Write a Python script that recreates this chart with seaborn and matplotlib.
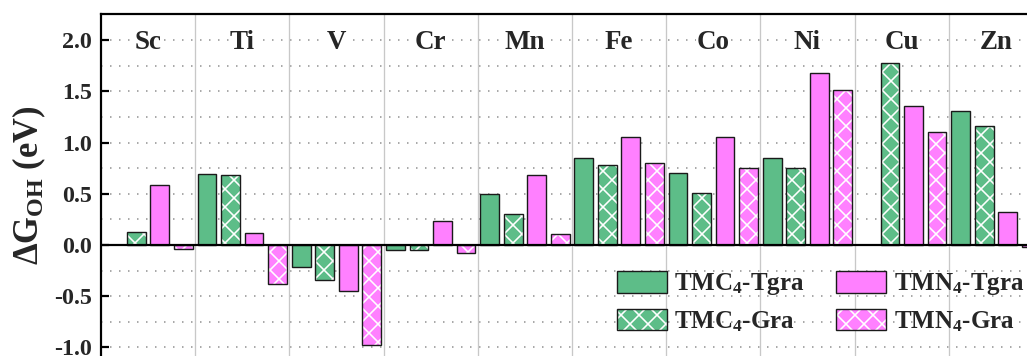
import numpy as np
import pandas as pd
import matplotlib
matplotlib.use("Agg")
import matplotlib.pyplot as plt
import seaborn as sns

elements = ["Sc", "Ti", "V", "Cr", "Mn", "Fe", "Co", "Ni", "Cu", "Zn"]
series = ["TMC$_4$-Tgra", "TMC$_4$-Gra", "TMN$_4$-Tgra", "TMN$_4$-Gra"]
tmc4_tgra = [np.nan, 0.69, -0.21, -0.05, 0.50, 0.85, 0.70, 0.85, np.nan, 1.31]
tmc4_gra = [0.13, 0.68, -0.34, -0.05, 0.30, 0.78, 0.51, 0.75, 1.78, 1.16]
tmn4_tgra = [0.59, 0.12, -0.45, 0.23, 0.68, 1.05, 1.05, 1.68, 1.36, 0.32]
tmn4_gra = [-0.04, -0.38, -0.98, -0.08, 0.11, 0.80, 0.75, 1.51, 1.10, -0.02]
yticks = [-1.0, -0.5, 0.0, 0.5, 1.0, 1.5, 2.0]

green = "#5dbd88"
pink = "#ff80ff"
colors = [green, green, pink, pink]
hatched = [False, True, False, True]

rows = []
for s, vals in zip(series, [tmc4_tgra, tmc4_gra, tmn4_tgra, tmn4_gra]):
    for e, v in zip(elements, vals):
        rows.append({"element": e, "series": s, "value": v})
df = pd.DataFrame(rows)

W, H = 1027, 356
dpi = 108


def P(px):
    return px * 72.0 / dpi


sns.set_theme(style="white")
plt.rcParams["font.family"] = ["Liberation Serif", "DejaVu Serif"]
plt.rcParams["font.weight"] = "bold"
plt.rcParams["mathtext.fontset"] = "custom"
plt.rcParams["mathtext.rm"] = "Liberation Serif:bold"
plt.rcParams["mathtext.it"] = "Liberation Serif:bold"
plt.rcParams["mathtext.bf"] = "Liberation Serif:bold"
plt.rcParams["axes.unicode_minus"] = False
plt.rcParams["hatch.linewidth"] = P(1.6)

fig = plt.figure(figsize=(W / dpi, H / dpi), dpi=dpi)
ax = fig.add_axes([101 / W, 0.0, (1043 - 101) / W, 1 - 14 / H])

sns.barplot(data=df, x="element", y="value", hue="series", order=elements,
            hue_order=series, palette=colors, width=1.0, gap=0.2,
            edgecolor="#1a1a1a", linewidth=P(1.4), saturation=1, ax=ax,
            legend=True)

for cont, h in zip(ax.containers, hatched):
    for p in cont.patches:
        p.set_zorder(3)
        if h:
            p.set_hatch("xx")
            p._hatch_color = (1, 1, 1, 1)
            p.stale = True

ax.set_xlim(-0.5, len(elements) - 0.5)
ax.set_ylim(-1.083, 2.254)
ax.set_yticks(yticks)
ax.set_yticklabels([f"{t:.1f}" for t in yticks], fontsize=P(24), fontweight="bold")
ax.set_yticks(np.arange(-1.0, 2.01, 0.25), minor=True)
ax.tick_params(axis="y", which="major", direction="in", length=P(8), width=P(2.2),
               color="black", pad=P(9), left=True)
ax.tick_params(axis="y", which="minor", length=0, left=True)
ax.tick_params(axis="x", bottom=False, labelbottom=False)
ax.set_xlabel("")
ax.set_ylabel("ΔG$_{\\mathrm{OH}}$ (eV)", fontsize=P(34.5), fontweight="bold",
              labelpad=P(6))

ax.grid(False)
ax.yaxis.grid(True, which="both", color="#8f8f8f", linestyle=(0, (1, 5)),
              linewidth=P(1.5))
ax.set_axisbelow(True)
for i in range(len(elements)):
    ax.axvline(i + 0.5, color="#c8c8c8", lw=P(1.3), zorder=1)
ax.axhline(0, color="black", lw=P(2.2), zorder=4)

for sp in ["left", "top"]:
    ax.spines[sp].set_visible(True)
    ax.spines[sp].set_color("black")
    ax.spines[sp].set_linewidth(P(2.2))
for sp in ["right", "bottom"]:
    ax.spines[sp].set_visible(False)

for i, e in enumerate(elements):
    ax.text(i, 1.975, e, ha="center", va="center", fontsize=P(27), fontweight="bold",
            zorder=5, bbox=dict(facecolor="white", edgecolor="none", pad=P(1)))

handles, labels = ax.get_legend_handles_labels()
for hnd, h in zip(handles, hatched):
    if h:
        hnd.set_hatch("xx")
        hnd._hatch_color = (1, 1, 1, 1)
ax.legend(handles, labels, ncol=2, loc="upper left",
          bbox_to_anchor=(612 / W, 1 - 266 / H), bbox_transform=fig.transFigure,
          frameon=False, fontsize=P(25), handlelength=2.0, handleheight=0.95,
          handletextpad=0.3, columnspacing=1.25, labelspacing=0.45, borderpad=0.2,
          borderaxespad=0)

fig.savefig("out.png", dpi=dpi)
